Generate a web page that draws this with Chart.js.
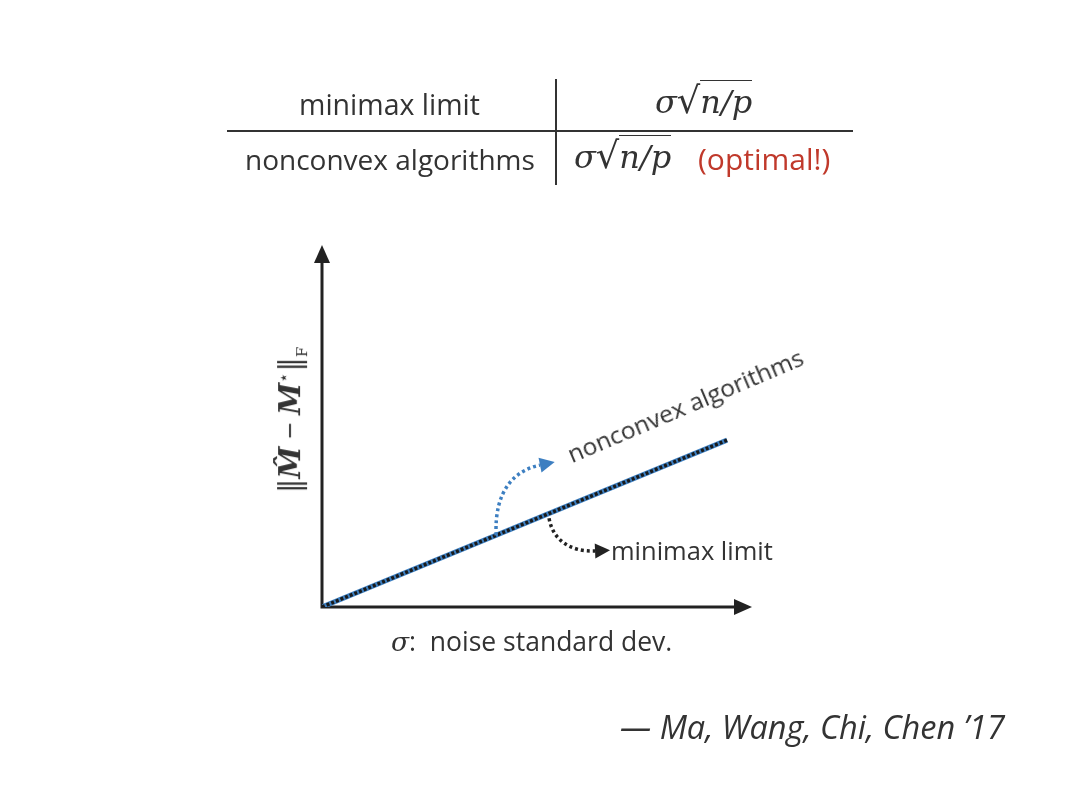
<!DOCTYPE html>
<html>
<head>
<meta charset="utf-8">
<script src="https://cdn.jsdelivr.net/npm/chart.js@4"></script>
<style>
  html, body { margin: 0; padding: 0; background: #fff; }
  #wrap { position: relative; width: 1080px; height: 810px; overflow: hidden; font-family: 'Open Sans', sans-serif; color: #333; }
  canvas { position: absolute; left: 0; top: 0; }
  .t { position: absolute; white-space: nowrap; }
  .m { font-family: 'DejaVu Serif', serif; font-style: italic; }
  .ov { border-top: 1.5px solid #333; padding-top: 2px; font-family: 'DejaVu Serif', serif; font-style: italic; }
  .sq { font-family: 'DejaVu Serif', serif; font-size: 1.15em; }
  .red { color: #c0392b; }
  .hl { position: absolute; background: #333; }
</style>
</head>
<body>
<div id="wrap">
  <canvas id="chart" width="1080" height="810"></canvas>

  <!-- table -->
  <div class="hl" style="left:227px; top:130px; width:626px; height:1.5px;"></div>
  <div class="hl" style="left:555px; top:79px; width:1.5px; height:106px;"></div>
  <div class="t" style="left:299px; top:85px; font-size:28.5px;">minimax limit</div>
  <div class="t" style="left:655px; top:79px; font-size:32px;"><span class="m">σ</span><span class="sq">√</span><span class="ov">n/p</span></div>
  <div class="t" style="left:245px; top:140px; font-size:28px;">nonconvex algorithms</div>
  <div class="t" style="left:574px; top:134px; font-size:32px;"><span class="m">σ</span><span class="sq">√</span><span class="ov">n/p</span></div>
  <div class="t red" style="left:698px; top:138px; font-size:30px;">(optimal!)</div>

  <!-- axis labels -->
  <div class="t" style="left:290px; top:420px; font-size:29px; transform: translate(-50%,-50%) rotate(-90deg);">
    <span class="m">‖</span><span class="m" style="font-weight:bold;">M̂</span> − <span class="m" style="font-weight:bold;">M</span><sup style="font-size:17px;">⋆</sup><span class="m">‖</span><sub style="font-size:15px; font-family:'DejaVu Serif',serif;">F</sub>
  </div>
  <div class="t" style="left:391px; top:623px; font-size:26.5px;"><span class="m">σ</span>:&nbsp; noise standard dev.</div>

  <!-- annotations -->
  <div class="t" style="left:685px; top:405px; font-size:24.5px; transform: translate(-50%,-50%) rotate(-23deg);">nonconvex algorithms</div>
  <div class="t" style="left:611px; top:533px; font-size:25.5px;">minimax limit</div>

  <div class="t" style="left:620px; top:704px; font-size:32.5px; font-style:italic;">— Ma, Wang, Chi, Chen ’17</div>
</div>

<script>
// data (axis units 0..1)
const sigma = [0, 0.942];
const nonconvexErr = [0, 0.461];
const minimaxErr = [0, 0.461];

// curved pointer arrows, bezier control points in data units
const blueArrow = [[0.405, 0.198], [0.400, 0.323], [0.449, 0.378], [0.507, 0.392]];
const blackArrow = [[0.528, 0.245], [0.537, 0.185], [0.577, 0.152], [0.635, 0.155]];

const BLUE = '#3d7fc1';
const DARK = '#222';

function head(ctx, x, y, ang, len, w, color) {
    ctx.save();
    ctx.translate(x, y);
    ctx.rotate(ang);
    ctx.fillStyle = color;
    ctx.beginPath();
    ctx.moveTo(len, 0);
    ctx.lineTo(0, -w / 2);
    ctx.lineTo(0, w / 2);
    ctx.closePath();
    ctx.fill();
    ctx.restore();
}

const arrowPlugin = {
    id: 'arrows',
    beforeDatasetsDraw(chart) {
        const { ctx, chartArea: a } = chart;
        ctx.save();
        ctx.strokeStyle = DARK;
        ctx.lineWidth = 3;
        ctx.beginPath();
        ctx.moveTo(a.left, a.top + 16);
        ctx.lineTo(a.left, a.bottom);
        ctx.lineTo(a.right - 16, a.bottom);
        ctx.stroke();
        head(ctx, a.left, a.top + 18, -Math.PI / 2, 18, 16, DARK);
        head(ctx, a.right - 18, a.bottom, 0, 18, 16, DARK);
        ctx.restore();
    },
    afterDatasetsDraw(chart) {
        const { ctx } = chart;
        const xs = chart.scales.x, ys = chart.scales.y;
        [[blueArrow, BLUE], [blackArrow, DARK]].forEach(([pts, color]) => {
            const p = pts.map(([u, v]) => [xs.getPixelForValue(u), ys.getPixelForValue(v)]);
            ctx.save();
            ctx.strokeStyle = color;
            ctx.lineWidth = 3.5;
            ctx.setLineDash([3, 3]);
            ctx.beginPath();
            ctx.moveTo(p[0][0], p[0][1]);
            ctx.bezierCurveTo(p[1][0], p[1][1], p[2][0], p[2][1], p[3][0], p[3][1]);
            ctx.stroke();
            ctx.restore();
            const ang = Math.atan2(p[3][1] - p[2][1], p[3][0] - p[2][0]);
            head(ctx, p[3][0], p[3][1], ang, 15, 15, color);
        });
    }
};

new Chart(document.getElementById('chart'), {
    type: 'line',
    data: {
        datasets: [
            {
                label: 'minimax limit',
                data: sigma.map((s, i) => ({ x: s, y: minimaxErr[i] })),
                borderColor: '#1a1a1a',
                borderWidth: 3.5,
                borderDash: [3, 2],
                pointRadius: 0,
                order: 0
            },
            {
                label: 'nonconvex algorithms',
                data: sigma.map((s, i) => ({ x: s, y: nonconvexErr[i] })),
                borderColor: BLUE,
                borderWidth: 5,
                pointRadius: 0,
                order: 1
            }
        ]
    },
    options: {
        responsive: false,
        animation: false,
        layout: { padding: { left: 322, right: 328, top: 245, bottom: 203 } },
        plugins: { legend: { display: false }, tooltip: { enabled: false } },
        scales: {
            x: { type: 'linear', min: 0, max: 1, display: false },
            y: { type: 'linear', min: 0, max: 1, display: false }
        }
    },
    plugins: [arrowPlugin]
});
</script>
</body>
</html>
